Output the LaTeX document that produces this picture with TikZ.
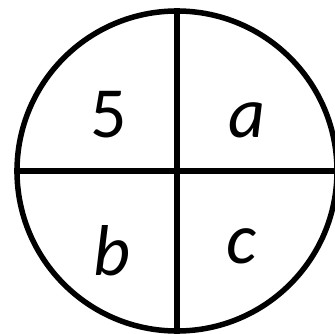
\documentclass[tikz,border=0pt]{standalone}
\usepackage{fontspec}
\setmainfont{Carlito}
\begin{document}
\begin{tikzpicture}[x=1pt,y=-1pt,
  ring/.style={circle,draw,line width=5.5pt,minimum size=320pt,inner sep=0pt},
  lbl/.style={anchor=base,inner sep=0pt,font=\fontsize{72}{72}\selectfont}]
\useasboundingbox (0,0) rectangle (334,334);
\node[ring] (o) at (177,171) {};
\draw[line width=5.5pt] (o.north) -- (o.south);
\draw[line width=5.5pt] (o.west) -- (o.east);
\node[lbl] (n5) at (109,137) {5};
\node[lbl] (na) at (247,137) {\textit{a}};
\node[lbl] (nb) at (112,275) {\textit{b}};
\node[lbl] (nc) at (241,263) {\textit{c}};
\end{tikzpicture}
\end{document}
